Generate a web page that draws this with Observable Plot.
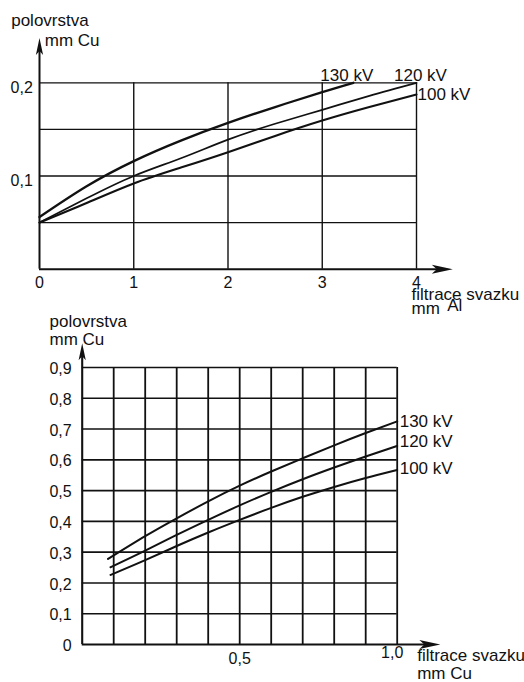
<!DOCTYPE html>
<html>
<head>
<meta charset="utf-8">
<script src="https://cdn.jsdelivr.net/npm/d3@7"></script>
<script src="https://cdn.jsdelivr.net/npm/@observablehq/plot@0.6"></script>
<style>
html, body { margin: 0; padding: 0; background: #fff; }
#wrap { position: relative; width: 524px; height: 682px; overflow: hidden; }
#wrap svg { position: absolute; left: 0; overflow: visible; }
</style>
</head>
<body>
<div id="wrap"></div>
<script>
// ---------- data: top chart (filtrace svazku mm Al -> polovrstva mm Cu) ----------
const seriesNames = ["130 kV", "120 kV", "100 kV"];
const topX130 = [0, 0.5, 1, 1.5, 2, 2.5, 3, 3.33];
const topY130 = [0.056, 0.089, 0.116, 0.138, 0.157, 0.174, 0.19, 0.2];
const topX120 = [0, 0.5, 1, 1.5, 2, 2.5, 3, 3.5, 4];
const topY120 = [0.05, 0.076, 0.1, 0.119, 0.139, 0.156, 0.171, 0.186, 0.2];
const topX100 = [0, 0.5, 1, 1.5, 2, 2.5, 3, 3.5, 4];
const topY100 = [0.05, 0.071, 0.092, 0.109, 0.1255, 0.143, 0.1595, 0.174, 0.1875];
const topXTicks = [0, 1, 2, 3, 4];
const topXGrid = [1, 2, 3, 4];
const topYGrid = [0.05, 0.1, 0.15, 0.2];
const topYTicks = [0.1, 0.2];

// ---------- data: bottom chart (filtrace svazku mm Cu -> polovrstva mm Cu) ----------
const botX130 = [0.082, 0.2, 0.3, 0.4, 0.5, 0.6, 0.7, 0.8, 0.9, 1.0];
const botY130 = [0.278, 0.352, 0.41, 0.465, 0.516, 0.562, 0.605, 0.647, 0.687, 0.725];
const botX120 = [0.09, 0.2, 0.3, 0.4, 0.5, 0.6, 0.7, 0.8, 0.9, 1.0];
const botY120 = [0.251, 0.305, 0.356, 0.405, 0.452, 0.496, 0.537, 0.575, 0.611, 0.645];
const botX100 = [0.09, 0.2, 0.3, 0.4, 0.5, 0.6, 0.7, 0.8, 0.9, 1.0];
const botY100 = [0.226, 0.274, 0.32, 0.364, 0.405, 0.444, 0.48, 0.512, 0.541, 0.567];
const botXGrid = [0.1, 0.2, 0.3, 0.4, 0.5, 0.6, 0.7, 0.8, 0.9, 1.0];
const botYGrid = [0.1, 0.2, 0.3, 0.4, 0.5, 0.6, 0.7, 0.8, 0.9];
const botYTicks = [0, 0.1, 0.2, 0.3, 0.4, 0.5, 0.6, 0.7, 0.8, 0.9];
const botXTickMid = [0.5];
const botXTickEnd = [1.0];

// axis-arrow extents (data units)
const topArrowX = 4.385, topArrowY = 0.248;
const botArrowX = 1.137, botArrowY = 0.979;

const pts = (xs, ys) => xs.map((x, i) => ({x, y: ys[i]}));
const comma = (d) => d === 0 ? "0" : String(d).replace(".", ",");
const comma1 = (d) => d3.format(".1f")(d).replace(".", ",");
const ink = "#111";
const font = "'Liberation Sans', Arial, Helvetica, sans-serif";

function arrowHead(len, half, notch) {
  return {draw(ctx) {
    ctx.moveTo(0, 0);
    ctx.lineTo(half, len);
    ctx.lineTo(0, len - notch);
    ctx.lineTo(-half, len);
    ctx.closePath();
  }};
}
const headX = arrowHead(21, 4.5, 5);
const headY = arrowHead(17, 3.6, 4);

function label(txt, opts) {
  return Plot.text([txt], {text: d => d, fill: ink, fontSize: 17, textAnchor: "start", lineAnchor: "bottom", ...opts});
}

const wrap = document.getElementById("wrap");

// ---------- top chart ----------
const s130t = pts(topX130, topY130), s120t = pts(topX120, topY120), s100t = pts(topX100, topY100);
const topChart = Plot.plot({
  width: 524, height: 300,
  marginLeft: 39, marginRight: 108, marginTop: 82.3, marginBottom: 31.3,
  x: {domain: [0, 4], label: null},
  y: {domain: [0, 0.2], label: null},
  style: {fontFamily: font, fontSize: "17px", color: ink, background: "transparent", overflow: "visible"},
  marks: [
    Plot.ruleX(topXGrid, {y1: 0, y2: 0.2, stroke: ink, strokeWidth: 1.4}),
    Plot.ruleY(topYGrid, {x1: 0, x2: 4, stroke: ink, strokeWidth: 1.3}),
    Plot.ruleY([0], {x1: 0, x2: topArrowX - 0.08, stroke: ink, strokeWidth: 2}),
    Plot.ruleX([0], {y1: 0, y2: topArrowY - 0.008, stroke: ink, strokeWidth: 2}),
    Plot.dot([{x: topArrowX, y: 0}], {x: "x", y: "y", symbol: headX, rotate: 90, fill: ink, stroke: "none"}),
    Plot.dot([{x: 0, y: topArrowY}], {x: "x", y: "y", symbol: headY, rotate: 0, fill: ink, stroke: "none"}),
    Plot.line(s130t, {x: "x", y: "y", curve: "natural", stroke: ink, strokeWidth: 2.3}),
    Plot.line(s120t, {x: "x", y: "y", curve: "natural", stroke: ink, strokeWidth: 1.7}),
    Plot.line(s100t, {x: "x", y: "y", curve: "natural", stroke: ink, strokeWidth: 2.1}),
    Plot.axisX({ticks: topXTicks, tickSize: 0, tickPadding: 7, fontSize: 16, tickFormat: comma, label: null, fill: ink}),
    Plot.axisY({ticks: topYTicks, tickSize: 0, tickPadding: 6.7, dy: 4.8, fontSize: 16, tickFormat: comma, label: null, fill: ink}),
    Plot.text([s130t[s130t.length - 1]], {x: "x", y: "y", text: () => seriesNames[0], dx: -33, dy: -1.6, textAnchor: "start", lineAnchor: "bottom", fontSize: 17, fill: ink}),
    Plot.text([s120t[s120t.length - 1]], {x: "x", y: "y", text: () => seriesNames[1], dx: -22.5, dy: -1.6, textAnchor: "start", lineAnchor: "bottom", fontSize: 17, fill: ink}),
    Plot.text([s100t[s100t.length - 1]], {x: "x", y: "y", text: () => seriesNames[2], dx: 1, dy: 6, textAnchor: "start", lineAnchor: "bottom", fontSize: 17, fill: ink}),
    label("polovrstva", {frameAnchor: "top-left", dx: -28.3, dy: -57.3}),
    label("mm Cu", {frameAnchor: "top-left", dx: 5.3, dy: -36.6}),
    label("filtrace svazku", {frameAnchor: "bottom-right", dx: -5, dy: 30.3}),
    label("mm", {frameAnchor: "bottom-right", dx: -5, dy: 44.5}),
    label("Al", {frameAnchor: "bottom-right", dx: 30.7, dy: 41.8})
  ]
});
topChart.style.top = "0px";
wrap.appendChild(topChart);

// ---------- bottom chart ----------
const s130b = pts(botX130, botY130), s120b = pts(botX120, botY120), s100b = pts(botX100, botY100);
const bottomChart = Plot.plot({
  width: 524, height: 382,
  marginLeft: 81.7, marginRight: 127.3, marginTop: 67, marginBottom: 38,
  x: {domain: [0, 1], label: null},
  y: {domain: [0, 0.9], label: null},
  style: {fontFamily: font, fontSize: "17px", color: ink, background: "transparent", overflow: "visible"},
  marks: [
    Plot.ruleX(botXGrid, {y1: 0, y2: 0.9, stroke: ink, strokeWidth: 1.8}),
    Plot.ruleY(botYGrid, {x1: 0, x2: 1, stroke: ink, strokeWidth: 1.6}),
    Plot.ruleY([0], {x1: 0, x2: botArrowX - 0.025, stroke: ink, strokeWidth: 2.1}),
    Plot.ruleX([0], {y1: 0, y2: botArrowY - 0.03, stroke: ink, strokeWidth: 2.1}),
    Plot.dot([{x: botArrowX, y: 0}], {x: "x", y: "y", symbol: headX, rotate: 90, fill: ink, stroke: "none"}),
    Plot.dot([{x: 0, y: botArrowY}], {x: "x", y: "y", symbol: headY, rotate: 0, fill: ink, stroke: "none"}),
    Plot.line(s130b, {x: "x", y: "y", curve: "natural", stroke: ink, strokeWidth: 2}),
    Plot.line(s120b, {x: "x", y: "y", curve: "natural", stroke: ink, strokeWidth: 2}),
    Plot.line(s100b, {x: "x", y: "y", curve: "natural", stroke: ink, strokeWidth: 2}),
    Plot.axisX({ticks: botXTickMid, tickSize: 0, tickPadding: 8, fontSize: 16, tickFormat: comma1, label: null, fill: ink}),
    Plot.axisX({ticks: botXTickEnd, tickSize: 0, tickPadding: 2, dx: -5, fontSize: 16, tickFormat: comma1, label: null, fill: ink}),
    Plot.axisY({ticks: botYTicks, tickSize: 0, tickPadding: 10.5, dy: 1.5, fontSize: 16, tickFormat: comma, label: null, fill: ink}),
    Plot.text([s130b[s130b.length - 1]], {x: "x", y: "y", text: () => seriesNames[0], dx: 2.5, dy: 5.2, textAnchor: "start", lineAnchor: "bottom", fontSize: 17, fill: ink}),
    Plot.text([s120b[s120b.length - 1]], {x: "x", y: "y", text: () => seriesNames[1], dx: 2.5, dy: 0.8, textAnchor: "start", lineAnchor: "bottom", fontSize: 17, fill: ink}),
    Plot.text([s100b[s100b.length - 1]], {x: "x", y: "y", text: () => seriesNames[2], dx: 2.5, dy: 3.8, textAnchor: "start", lineAnchor: "bottom", fontSize: 17, fill: ink}),
    label("polovrstva", {frameAnchor: "top-left", dx: -32.7, dy: -40.3}),
    label("mm Cu", {frameAnchor: "top-left", dx: -32.7, dy: -22.7}),
    label("filtrace svazku", {frameAnchor: "bottom-right", dx: 20, dy: 16.7}),
    label("mm Cu", {frameAnchor: "bottom-right", dx: 20, dy: 34.3})
  ]
});
bottomChart.style.top = "300px";
wrap.appendChild(bottomChart);
</script>
</body>
</html>
